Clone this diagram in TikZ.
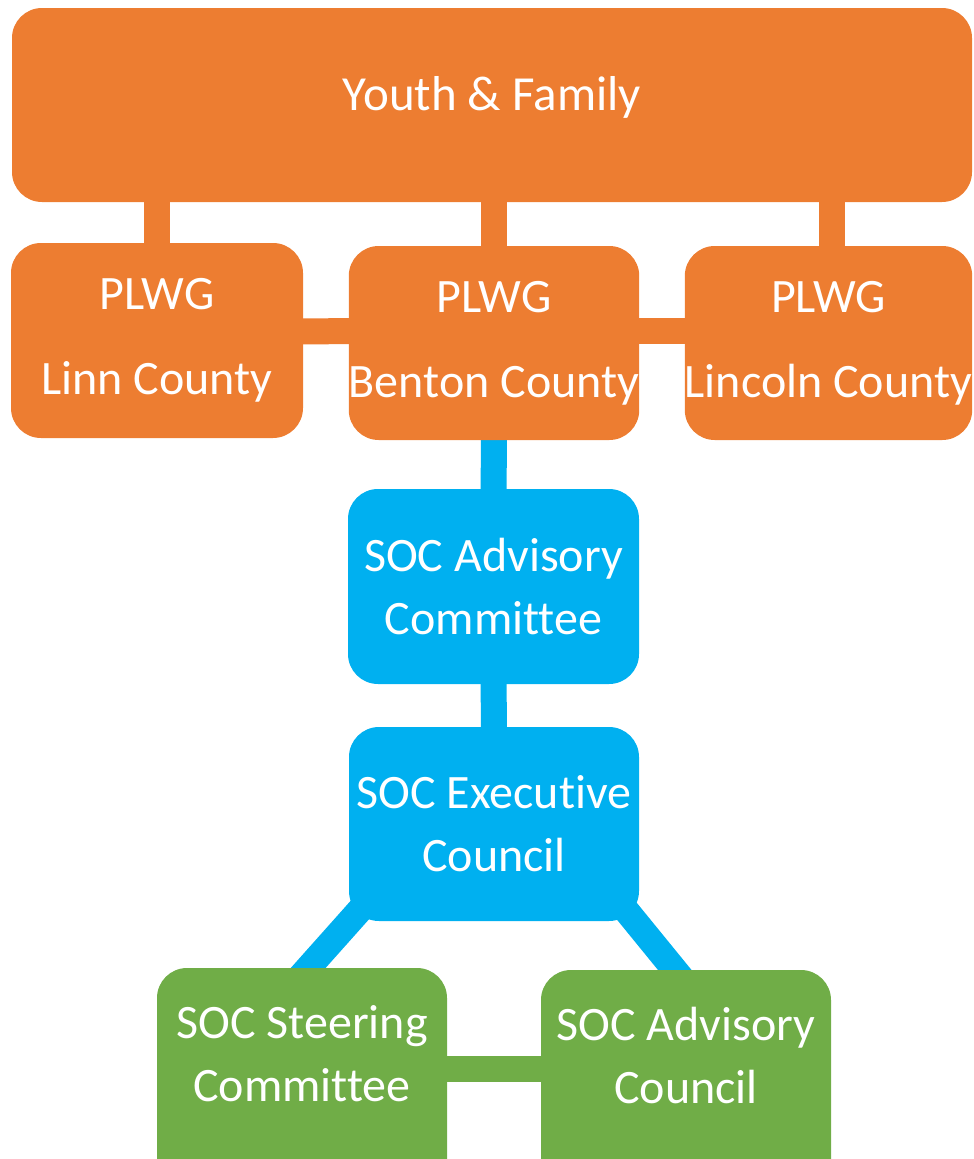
\documentclass[tikz,border=0pt]{standalone}
\usepackage{fontspec}
\setmainfont[Ligatures=NoCommon]{Carlito}
\usetikzlibrary{backgrounds}
\definecolor{orng}{HTML}{ED7D31}
\definecolor{blu}{HTML}{00B0F0}
\definecolor{grn}{HTML}{70AD47}
\tikzset{
  box/.style={rounded corners=30pt, inner sep=0pt, text=white, align=center,
    font=\fontsize{48}{63}\selectfont},
  obox/.style={box, fill=orng},
  bbox/.style={box, fill=blu},
  gbox/.style={box, fill=grn},
  plwg/.style={font=\fontsize{48}{85}\selectfont},
  conn/.style={line width=26pt},
}
\begin{document}
\begin{tikzpicture}[x=1pt,y=-1pt]
\clip (0,0) rectangle (974,1159);
% boxes
\node[obox, font=\fontsize{49}{63}\selectfont, text depth=24pt, minimum width=960pt, minimum height=194pt] (yf) at (492,105) {Youth \& Family};
\node[obox, plwg, minimum width=292pt, minimum height=195pt] (linn) at (157,340.5) {PLWG\\Linn County};
\node[obox, plwg, minimum width=290pt, minimum height=194pt] (benton) at (494,343) {PLWG\\Benton County};
\node[obox, plwg, minimum width=287pt, minimum height=194pt] (lincoln) at (828.5,343) {PLWG\\Lincoln County};
\node[bbox, minimum width=291pt, minimum height=195pt] (adv) at (493.5,586.5) {SOC Advisory\\Committee};
\node[bbox, minimum width=290pt, minimum height=194pt] (exec) at (494,824) {SOC Executive\\Council};
\node[gbox, text depth=64pt, minimum width=290pt, minimum height=234pt] (steer) at (302,1085) {SOC Steering\\Committee};
\node[gbox, text depth=64pt, minimum width=290pt, minimum height=234pt] (advc) at (686,1087) {SOC Advisory\\Council};
\coordinate (l3) at (832,343);
\coordinate (dl1) at (375,893);
\coordinate (dl2) at (293,985);
\coordinate (dr1) at (612,893);
\coordinate (dr2) at (687,985);
\begin{scope}[on background layer]
\draw[conn, orng] (linn.center) -- (linn.center |- yf.center);
\draw[conn, orng] (benton.center) -- (benton.center |- yf.center);
\draw[conn, orng] (l3) -- (l3 |- yf.center);
\draw[conn, orng] ([yshift=9pt]linn.center) -- ([yshift=12pt]benton.center);
\draw[conn, orng] ([yshift=12pt]benton.center) -- ([yshift=12pt]lincoln.center);
\draw[conn, blu] (benton.center) -- (adv.center);
\draw[conn, blu] (adv.center) -- (exec.center);
\draw[conn, blu] (dl1) -- (dl2);
\draw[conn, blu] (dr1) -- (dr2);
\draw[conn, grn] ([yshift=16pt]steer.center) -- ([yshift=18pt]advc.center);
\end{scope}
\end{tikzpicture}
\end{document}
